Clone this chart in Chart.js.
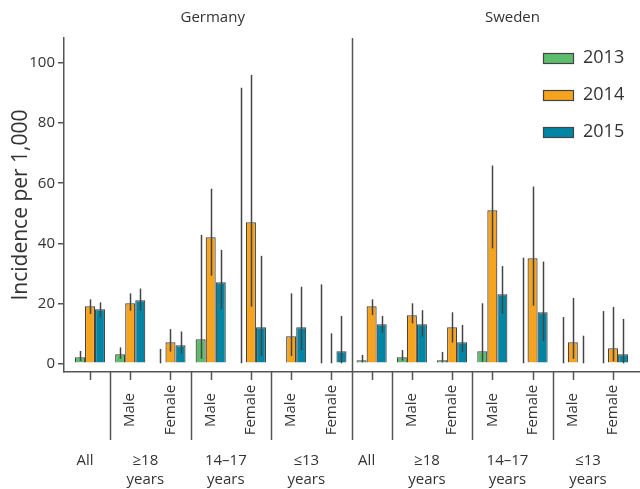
<!DOCTYPE html>
<html>
<head>
<meta charset="utf-8">
<script src="https://cdn.jsdelivr.net/npm/chart.js@4"></script>
<style>
  body { margin: 0; background: #fff; }
</style>
</head>
<body>
<canvas id="chart" width="640" height="489"></canvas>
<script>
// categories: 7 per country
const countries = ["Germany", "Sweden"];
const sexLabels = ["", "Male", "Female", "Male", "Female", "Male", "Female"];
const groupLabels = [["All"], ["\u226518", "years"], ["14\u201317", "years"], ["\u226413", "years"]];
const years = ["2013", "2014", "2015"];

// incidence per 1,000
const values2013 = [2, 3, null, 8, null, null, null, 1, 2, 1, 4, null, null, null];
const values2014 = [19, 20, 7, 42, 47, 9, null, 19, 16, 12, 51, 35, 7, 5];
const values2015 = [18, 21, 6, 27, 12, 12, 4, 13, 13, 7, 23, 17, null, 3];

// confidence intervals
const low2013 = [0.8, 1.5, 0, 1.5, 0, null, 0, 0.3, 0.9, 0.3, 0.5, 0, 0, 0];
const high2013 = [4.1, 5.3, 4.8, 42.8, 91.8, null, 26.3, 2.8, 4.4, 3.8, 20, 35.2, 15.4, 17.4];
const low2014 = [16.4, 17.5, 3.9, 29.2, 18.9, 2.4, 0, 16.1, 13.3, 6.9, 38.3, 19.2, 1.5, 0.7];
const high2014 = [21.3, 23.3, 11.4, 58.2, 96.1, 23.3, 10, 21.3, 20, 17, 65.9, 58.9, 21.8, 18.8];
const low2015 = [15.3, 17.5, 3.3, 18.1, 2.4, 4.4, 0, 10.2, 8.9, 3.8, 16.4, 7.4, 0, 0];
const high2015 = [20.3, 24.9, 10.6, 37.8, 35.8, 25.5, 15.8, 15.8, 17.7, 12.8, 32.4, 33.9, 9.2, 14.8];

const yTicks = [0, 20, 40, 60, 80, 100];

const colors = ["#5cbd6c", "#f6a31d", "#0085a4"];
const FONT = "'Open Sans', Lato, sans-serif";
const TXT = "#333";
const AXIS = "#555";

const series = [values2013, values2014, values2015];
const lows = [low2013, low2014, low2015];
const highs = [high2013, high2014, high2015];

function points(arr) {
    return arr.map((v, i) => ({ x: i, y: v }));
}

// Error bars, labels, separators, legend
const extras = {
    id: "extras",
    afterDatasetsDraw(chart) {
        const ctx = chart.ctx;
        const xs = chart.scales.x, ys = chart.scales.y;
        const unit = xs.getPixelForValue(1) - xs.getPixelForValue(0);
        const barW = unit * 0.75 / 3;
        const area = chart.chartArea;

        ctx.save();
        // error bars
        ctx.strokeStyle = "#444";
        ctx.lineWidth = 1.5;
        series.forEach((s, d) => {
            for (let i = 0; i < s.length; i++) {
                if (lows[d][i] == null || highs[d][i] == null) continue;
                const cx = Math.round(xs.getPixelForValue(i) + (d - 1) * barW) + 0.5;
                ctx.beginPath();
                ctx.moveTo(cx, ys.getPixelForValue(lows[d][i]));
                ctx.lineTo(cx, ys.getPixelForValue(highs[d][i]));
                ctx.stroke();
            }
        });

        // small ticks at each category
        ctx.strokeStyle = AXIS;
        ctx.lineWidth = 1.5;
        const n = values2014.length;
        for (let i = 0; i < n; i++) {
            const x = Math.round(xs.getPixelForValue(i)) + 0.5;
            ctx.beginPath();
            ctx.moveTo(x, area.bottom);
            ctx.lineTo(x, area.bottom + 8);
            ctx.stroke();
        }
        // group separators
        [0.5, 2.5, 4.5, 7.5, 9.5, 11.5].forEach(v => {
            const x = Math.round(xs.getPixelForValue(v)) + 0.5;
            ctx.beginPath();
            ctx.moveTo(x, area.bottom);
            ctx.lineTo(x, 440);
            ctx.stroke();
        });
        // panel separator
        const sx = Math.round(xs.getPixelForValue(6.5)) + 0.5;
        ctx.beginPath();
        ctx.moveTo(sx, area.top);
        ctx.lineTo(sx, 440);
        ctx.stroke();

        // rotated sex labels
        ctx.fillStyle = TXT;
        ctx.font = "15px " + FONT;
        ctx.textAlign = "center";
        ctx.textBaseline = "middle";
        for (let i = 0; i < n; i++) {
            const lab = sexLabels[i % 7];
            if (!lab) continue;
            ctx.save();
            ctx.translate(xs.getPixelForValue(i), 410);
            ctx.rotate(-Math.PI / 2);
            ctx.fillText(lab, 0, 0);
            ctx.restore();
        }

        // group labels
        ctx.font = "15px " + FONT;
        const groupCenters = [0, 1.5, 3.5, 5.5];
        countries.forEach((c, k) => {
            groupLabels.forEach((lines, g) => {
                const x = xs.getPixelForValue(groupCenters[g] + k * 7) - 5;
                lines.forEach((t, j) => ctx.fillText(t, x, 461 + j * 19));
            });
        });

        // panel titles
        ctx.font = "15px " + FONT;
        ctx.fillText(countries[0], xs.getPixelForValue(3.05), 18);
        ctx.fillText(countries[1], xs.getPixelForValue(10.5), 18);

        // legend
        ctx.font = "18px " + FONT;
        ctx.textAlign = "left";
        years.forEach((yr, d) => {
            const y = 53 + d * 37;
            ctx.fillStyle = colors[d];
            ctx.fillRect(543, y, 31, 11);
            ctx.strokeStyle = "#444";
            ctx.lineWidth = 1.2;
            ctx.strokeRect(543.5, y + 0.5, 30, 10);
            ctx.fillStyle = TXT;
            ctx.fillText(yr, 583, y + 5);
        });
        ctx.restore();
    }
};

new Chart(document.getElementById("chart"), {
    type: "bar",
    data: {
        datasets: years.map((yr, d) => ({
            label: yr,
            data: points(series[d]),
            backgroundColor: colors[d],
            borderColor: "#444",
            borderWidth: 1.2,
            categoryPercentage: 0.75,
            barPercentage: 1.0
        }))
    },
    options: {
        responsive: false,
        animation: false,
        layout: { padding: { top: 38, right: 0, left: 0, bottom: 0 } },
        plugins: {
            legend: { display: false },
            tooltip: { enabled: false }
        },
        scales: {
            x: {
                type: "linear",
                offset: false,
                min: -0.646,
                max: 13.67,
                grid: { display: false, offset: false },
                border: { display: true, color: AXIS, width: 1.5 },
                ticks: { display: false },
                afterFit(scale) { scale.height = 489 - 372; }
            },
            y: {
                min: -2.9,
                max: 108.4,
                grid: { drawOnChartArea: false, color: AXIS, tickLength: 6, lineWidth: 1.5 },
                border: { display: true, color: AXIS, width: 1.5 },
                afterBuildTicks(scale) { scale.ticks = yTicks.map(v => ({ value: v })); },
                ticks: { color: TXT, font: { size: 15, family: FONT }, padding: 3 },
                title: {
                    display: true,
                    text: "Incidence per 1,000",
                    color: TXT,
                    font: { size: 21, family: FONT },
                    padding: { top: 8, bottom: 0 }
                },
                afterFit(scale) { scale.width = 64; }
            }
        }
    },
    plugins: [extras]
});
</script>
</body>
</html>
